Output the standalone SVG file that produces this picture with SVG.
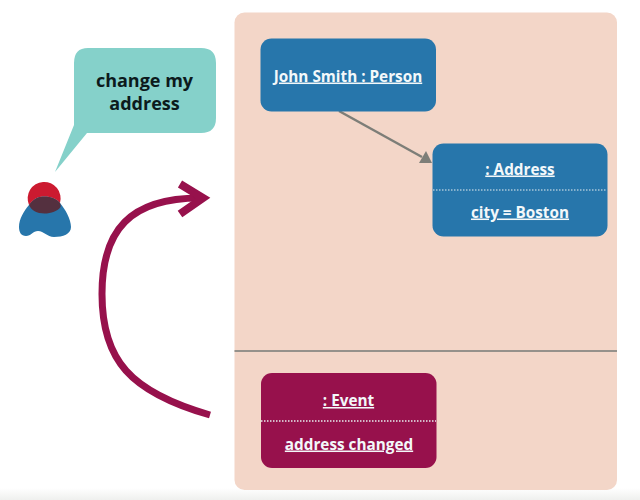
<svg xmlns="http://www.w3.org/2000/svg" width="640" height="500" viewBox="0 0 640 500">
<defs>
<linearGradient id="fade" x1="0" y1="0" x2="0" y2="1"><stop offset="0" stop-color="#ffffff"/><stop offset="1" stop-color="#eff0ee"/></linearGradient>
</defs>
<style>
text{font-family:"Open Sans","Noto Sans",sans-serif;font-weight:700;text-anchor:middle;font-size:15.3px}
.w{fill:#f3f8fa;text-decoration:underline}
.blue{fill:#2776ab}
.mag{fill:#97114c}
.div{stroke:#e8eef0;stroke-width:1;stroke-dasharray:1.5 1.5;fill:none}
</style>
<rect width="640" height="500" fill="#ffffff"/>
<rect x="0" y="488" width="640" height="12" fill="url(#fade)"/>
<g id="panel">
<rect x="234.500" y="12.500" width="382.500" height="477.500" rx="10" fill="#f3d6c8"/>
<line x1="234.500" y1="351" x2="617" y2="351" stroke="#95918b" stroke-width="2"/>
</g>
<g id="speech">
<path d="M88 48H201Q216 48 216 63V118Q216 133 201 133H87L55 172L74 125V63Q74 48 88 48Z" fill="#85d1ca"/>
<text x="144.500" y="86.500" style="font-size:18px" fill="#0c1a1c">change my</text>
<text x="144.500" y="109.500" style="font-size:18px" fill="#0c1a1c">address</text>
</g>
<g id="actor">
<path d="M29 205C33 199 38 196.500 44.500 196.500C51 196.500 57 199 60 203C65 209 71 219 71 227C71 234 63 237 54 237C47 237 44 231 38 231C33 231 31 236 26 236C21 236 19 232 19 227C19 219 24 211 29 205Z" fill="#2776ab"/>
<path d="M60 203A16.500 16.500 0 1 0 29 205C33 199 38 196.500 44.500 196.500C51 196.500 57 199 60 203Z" fill="#cc1a30"/>
<path d="M29 205C33 199 38 196.500 44.500 196.500C51 196.500 57 199 60 203C60.500 205 61 206 60.500 207C58 211 51 213.500 44.500 213.500C37 213.500 31 210 29 205Z" fill="#54303f"/>
</g>
<g id="connectors">
<path d="M210 415C130 392 102 360 102 294C102 230 130 198 200 198" fill="none" stroke="#97114c" stroke-width="7"/>
<path d="M180 184L203 198L180 214" fill="none" stroke="#97114c" stroke-width="8"/>
<line x1="339" y1="111" x2="422" y2="157" stroke="#7d7e78" stroke-width="2.500"/>
<path d="M432 163L419 163L426 151Z" fill="#7d7e78"/>
</g>
<g id="person">
<rect x="260.500" y="38.500" width="175.500" height="73" rx="11" class="blue"/>
<text x="348" y="81.500" class="w">John Smith : Person</text>
</g>
<g id="address">
<rect x="432.500" y="143.500" width="175" height="93" rx="11" class="blue"/>
<line x1="433" y1="190" x2="607" y2="190" class="div"/>
<text x="520" y="174.500" class="w">: Address</text>
<text x="520" y="217.500" class="w">city = Boston</text>
</g>
<g id="event">
<rect x="261" y="373" width="175.500" height="95" rx="11" class="mag"/>
<line x1="261" y1="421" x2="436" y2="421" class="div" style="stroke-width:1.500"/>
<text x="348.500" y="406" class="w">: Event</text>
<text x="349" y="449.500" class="w">address changed</text>
</g>
</svg>
